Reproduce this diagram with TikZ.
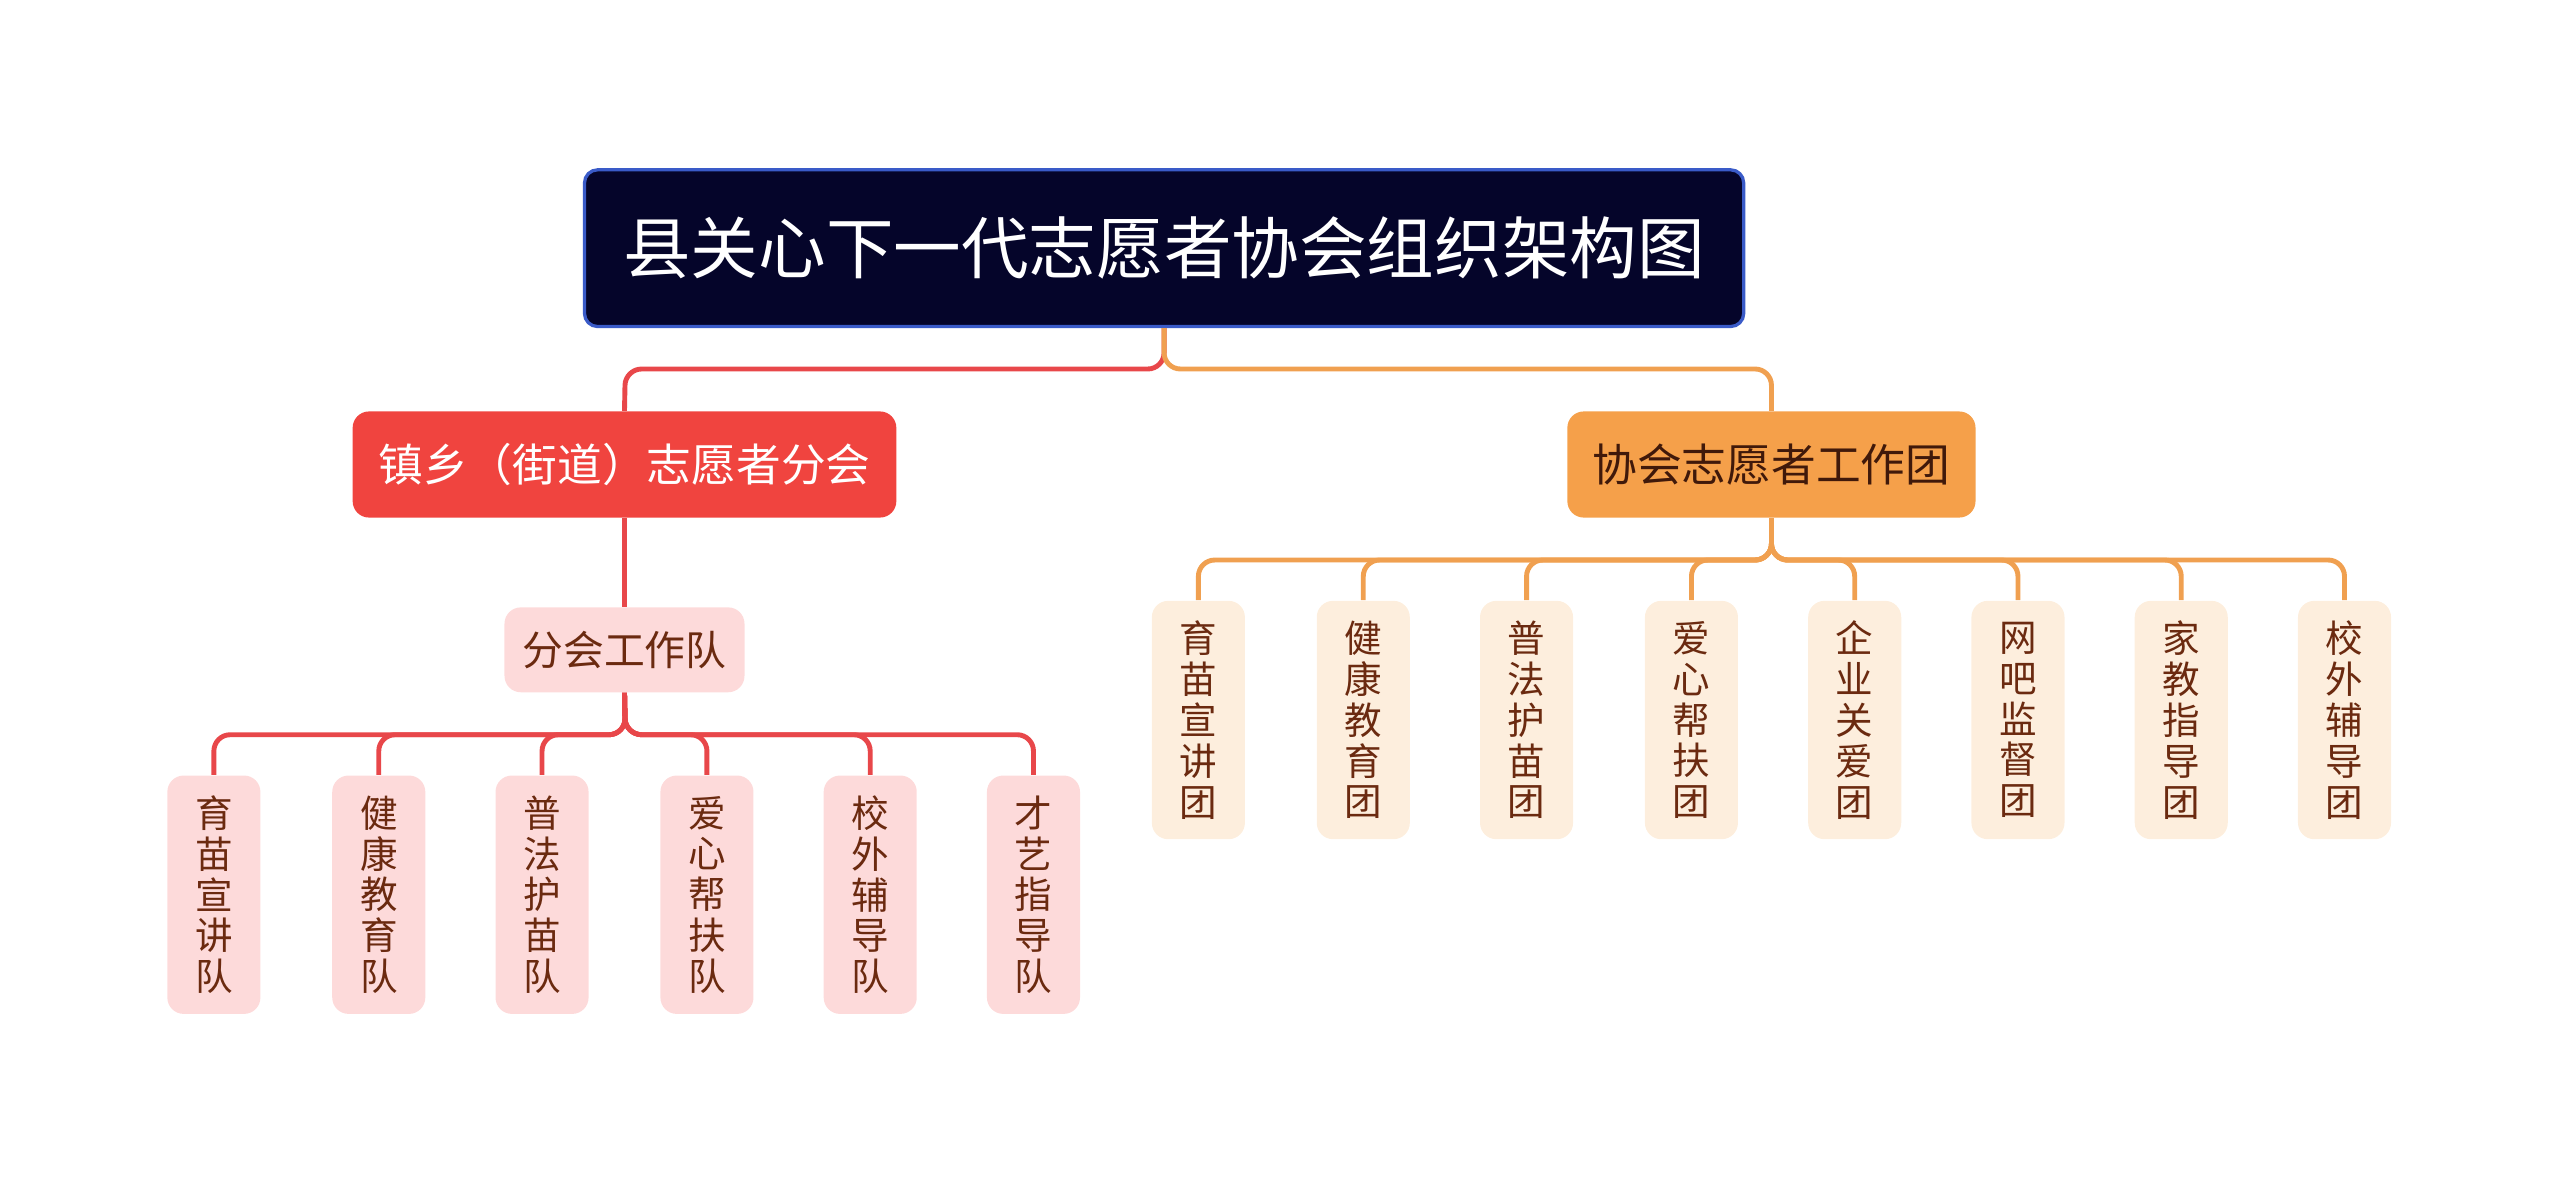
\documentclass[tikz,border=0pt]{standalone}
\usepackage{fontspec}
\setmainfont{Noto Sans CJK SC}
\definecolor{navy}{HTML}{05052A}
\definecolor{navyb}{HTML}{3A5BC8}
\definecolor{redn}{HTML}{F0443F}
\definecolor{redl}{HTML}{E8474A}
\definecolor{orn}{HTML}{F5A04A}
\definecolor{orl}{HTML}{F0A050}
\definecolor{pinkf}{HTML}{FDDADA}
\definecolor{creamf}{HTML}{FDEEDD}
\definecolor{txtd}{HTML}{6B2A10}
\begin{document}
\begin{tikzpicture}[x=0.5pt,y=-0.5pt,
 title/.style={draw=navyb,line width=1pt,fill=navy,text=white,rounded corners=4pt,minimum width=355pt,minimum height=48pt,font=\fontsize{20.7}{22}\selectfont,inner sep=0pt},
 branch/.style={rounded corners=5pt,minimum height=32.5pt,font=\fontsize{13.7}{15}\selectfont,inner sep=0pt},
 leafl/.style={fill=pinkf,text=txtd,rounded corners=5pt,minimum width=28.5pt,minimum height=73pt,font=\fontsize{11.5}{12.5}\selectfont,align=center,inner sep=0pt},
 leafr/.style={fill=creamf,text=txtd,rounded corners=5pt,minimum width=28.5pt,minimum height=73pt,font=\fontsize{11.5}{12.5}\selectfont,align=center,inner sep=0pt},
 rl/.style={draw=redl,line width=1.5pt,rounded corners=5pt},
 ol/.style={draw=orl,line width=1.5pt,rounded corners=5pt}]
\useasboundingbox (0,0) rectangle (1568,725);
\node[title] (t) at (713,152) {县关心下一代志愿者协会组织架构图};
\node[branch,fill=redn,text=white,minimum width=166.5pt] (L) at (382.5,284.5) {镇乡（街道）志愿者分会};
\node[branch,fill=orn,text=txtd!60!black,minimum width=125pt] (R) at (1085,284.5) {协会志愿者工作团};
\node[branch,fill=pinkf,text=txtd,minimum width=73.5pt,minimum height=26pt,font=\fontsize{12.5}{14}\selectfont] (F) at (382.5,398) {分会工作队};
\draw[rl] (t.south) -- (713,226) -- (383,226) -- (L.north);
\draw[ol] (t.south) -- (713,226) -- (1085,226) -- (R.north);
\draw[rl] (L.south) -- (F.north);
\foreach \x/\t [count=\i] in {131/育\\苗\\宣\\讲\\队,232/健\\康\\教\\育\\队,332/普\\法\\护\\苗\\队,433/爱\\心\\帮\\扶\\队,533/校\\外\\辅\\导\\队,633/才\\艺\\指\\导\\队}{
 \node[leafl] (l\i) at (\x,548) {\t};
 \draw[rl] (F.south) -- (383,450) -- (\x,450) -- (l\i.north);
}
\foreach \x/\t [count=\i] in {734/育\\苗\\宣\\讲\\团,835/健\\康\\教\\育\\团,935/普\\法\\护\\苗\\团,1036/爱\\心\\帮\\扶\\团,1136/企\\业\\关\\爱\\团,1236/网\\吧\\监\\督\\团,1336/家\\教\\指\\导\\团,1436/校\\外\\辅\\导\\团}{
 \node[leafr] (r\i) at (\x,441) {\t};
 \draw[ol] (R.south) -- (1085,343) -- (\x,343) -- (r\i.north);
}
\end{tikzpicture}
\end{document}
